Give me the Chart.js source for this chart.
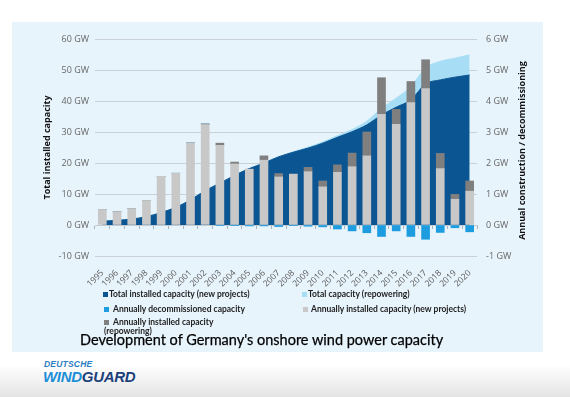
<!DOCTYPE html>
<html>
<head>
<meta charset="utf-8">
<script src="https://cdn.jsdelivr.net/npm/chart.js"></script>
<style>
  html, body { margin: 0; padding: 0; }
  body {
    width: 570px; height: 397px; position: relative; overflow: hidden;
    background: linear-gradient(to bottom, #ffffff 0px, #ffffff 365px, #e4e4e4 397px);
  }
  #panel { position: absolute; left: 12px; top: 22px; width: 531px; height: 330px; background: #e8f4fc; }
  #chart { position: absolute; left: 0; top: 0; }
  .leg { position: absolute; font: bold 8.5px Lato, sans-serif; color: #222; line-height: 9px; white-space: nowrap; }
  .leg i { position: absolute; width: 5px; height: 5px; top: 2px; }
  #title { position: absolute; left: 68px; top: 309px; font: 14.5px Lato, sans-serif; color: #000; white-space: nowrap; -webkit-text-stroke: 0.25px #000; }
  #logo1 { position: absolute; left: 44px; top: 359px; font: italic bold 8.5px "Liberation Sans", sans-serif; color: #2b7cc2; letter-spacing: 0.2px; }
  #logo2 { position: absolute; left: 43px; top: 368px; font: italic bold 15px "Liberation Sans", sans-serif; letter-spacing: -0.3px; }
</style>
</head>
<body>
<div id="panel">
  <canvas id="chart" width="531" height="275"></canvas>
  <div id="legend"></div>
  <div id="title">Development of Germany's onshore wind power capacity</div>
</div>
<div id="logo1">DEUTSCHE</div>
<div id="logo2"><span style="color:#1c8fd8">WIND</span><span style="color:#1d3f7a">GUARD</span></div>
<script>
const years = ['1995','1996','1997','1998','1999','2000','2001','2002','2003','2004','2005','2006','2007',
  '2008','2009','2010','2011','2012','2013','2014','2015','2016','2017','2018','2019','2020'];

// cumulative capacity, GW (left axis)
const totalNew = [1.2, 1.5, 1.9, 2.7, 4.0, 5.7, 8.1, 11.1, 13.5, 16.0, 18.2, 20.0, 22.0,
  23.5, 24.8, 26.4, 28.3, 30.1, 32.3, 35.5, 38.0, 40.4, 45.5, 46.8, 47.7, 48.4];
const totalRepowering = [1.2, 1.5, 1.9, 2.7, 4.0, 5.7, 8.1, 11.1, 13.5, 16.0, 18.2, 20.0, 22.0,
  23.6, 25.1, 26.8, 28.8, 30.8, 33.5, 37.6, 40.9, 44.7, 50.6, 52.8, 53.8, 54.9];

// annual values, GW (right axis)
const installedNew = [0.50, 0.43, 0.53, 0.79, 1.57, 1.67, 2.65, 3.24, 2.57, 1.97, 1.80, 2.09, 1.55,
  1.64, 1.72, 1.23, 1.70, 1.88, 2.23, 3.57, 3.25, 3.95, 4.40, 1.82, 0.83, 1.09];
const installedRepowering = [0, 0, 0, 0, 0, 0, 0, 0.02, 0.07, 0.06, 0, 0.14, 0.11,
  0, 0.14, 0.19, 0.24, 0.44, 0.77, 1.18, 0.48, 0.68, 0.93, 0.49, 0.16, 0.33];
const decommissioned = [0, 0, 0, 0, 0, 0, 0, 0, -0.02, -0.01, -0.03, -0.03, -0.05,
  -0.01, -0.04, -0.06, -0.13, -0.19, -0.25, -0.37, -0.19, -0.37, -0.46, -0.24, -0.09, -0.22];

const leftTitle = 'Total installed capacity';
const rightTitle = 'Annual construction / decommissioning';

const tickFont = { family: 'Open Sans', size: 9 };
const titleFont = { family: 'Open Sans', size: 9, weight: 'bold' };

// right axis title reads bottom-to-top like the left one
const rightTitlePlugin = {
  id: 'rightTitle',
  afterDraw(c) {
    const s = c.scales.y1, a = c.chartArea, ctx = c.ctx;
    ctx.save();
    ctx.translate(s.right - 21, (a.top + a.bottom) / 2 + 3);
    ctx.rotate(-Math.PI / 2);
    ctx.font = 'bold 9px "Open Sans"';
    ctx.fillStyle = '#111';
    ctx.textAlign = 'center';
    ctx.textBaseline = 'middle';
    ctx.fillText(rightTitle, 0, 0);
    ctx.restore();
  }
};

const chart = new Chart(document.getElementById('chart'), {
  type: 'bar',
  data: {
    labels: years,
    datasets: [
      { label: 'Annually installed capacity (new projects)', data: installedNew, yAxisID: 'y1',
        backgroundColor: '#c8c8c8', barThickness: 8, order: 0, stack: 's' },
      { label: 'Annually installed capacity (repowering)', data: installedRepowering, yAxisID: 'y1',
        backgroundColor: '#7f7f7f', barThickness: 8, order: 0, stack: 's' },
      { label: 'Annually decommissioned capacity', data: decommissioned, yAxisID: 'y1',
        backgroundColor: '#1d9ce0', barThickness: 8, order: 0, stack: 's' },
      { type: 'line', label: 'Total installed capacity (new projects)', data: totalNew, yAxisID: 'y',
        backgroundColor: '#0b5593', borderColor: '#0b5593', borderWidth: 1, pointRadius: 0,
        fill: 'origin', cubicInterpolationMode: 'monotone', order: 1 },
      { type: 'line', label: 'Total capacity (repowering)', data: totalRepowering, yAxisID: 'y',
        backgroundColor: '#a7def5', borderColor: '#a7def5', borderWidth: 1, pointRadius: 0,
        fill: 'origin', cubicInterpolationMode: 'monotone', order: 2 }
    ]
  },
  options: {
    responsive: false,
    devicePixelRatio: 1,
    animation: false,
    layout: { padding: { top: 17, left: 30, right: 0, bottom: 0 } },
    plugins: { legend: { display: false }, tooltip: { enabled: false } },
    scales: {
      x: {
        stacked: true,
        offset: true,
        grid: { display: false },
        border: { display: false },
        ticks: { font: { family: 'Open Sans', size: 8.5 }, color: '#555', minRotation: 45, maxRotation: 45, autoSkip: false, padding: 4 },
        afterFit: s => { s.height = 41; }
      },
      x0: {
        type: 'category',
        position: { y: 0 },
        offset: true,
        grid: { offset: true, drawOnChartArea: false, color: '#aab4bd', tickLength: 3 },
        border: { color: '#c3cad0' },
        ticks: { display: false }
      },
      y: {
        position: 'left',
        min: -10, max: 60,
        ticks: { stepSize: 10, font: tickFont, color: '#666', padding: 6, callback: v => v + ' GW' },
        grid: { color: '#c9d0d6', drawTicks: false },
        border: { display: false },
        title: { display: true, text: leftTitle, font: titleFont, color: '#111', padding: { top: 0, bottom: 4 } },
        afterFit: s => { s.width = 53; }
      },
      y1: {
        position: 'right',
        stacked: true,
        min: -1, max: 6,
        ticks: { stepSize: 1, font: tickFont, color: '#666', padding: 9, callback: v => v + ' GW' },
        grid: { drawOnChartArea: false, drawTicks: false },
        border: { display: false },
        afterFit: s => { s.width = 66; }
      }
    }
  },
  plugins: [rightTitlePlugin]
});

// legend built from the chart's datasets
const legendPos = [
  { ds: 3, x: 91, y: 268, tx: 6 },
  { ds: 4, x: 290, y: 268, tx: 6 },
  { ds: 2, x: 92, y: 283, tx: 9 },
  { ds: 0, x: 291, y: 283, tx: 8 },
  { ds: 1, x: 92, y: 296, tx: 9, wrap: 'Annually installed capacity<br>(repowering)' }
];
const legend = document.getElementById('legend');
legendPos.forEach(p => {
  const d = chart.data.datasets[p.ds];
  const el = document.createElement('div');
  el.className = 'leg';
  el.style.left = p.x + 'px';
  el.style.top = p.y + 'px';
  el.innerHTML = '<i style="left:0;background:' + d.backgroundColor + '"></i><span style="margin-left:' + p.tx + 'px">' + (p.wrap || d.label) + '</span>';
  legend.appendChild(el);
});
</script>
</body>
</html>
